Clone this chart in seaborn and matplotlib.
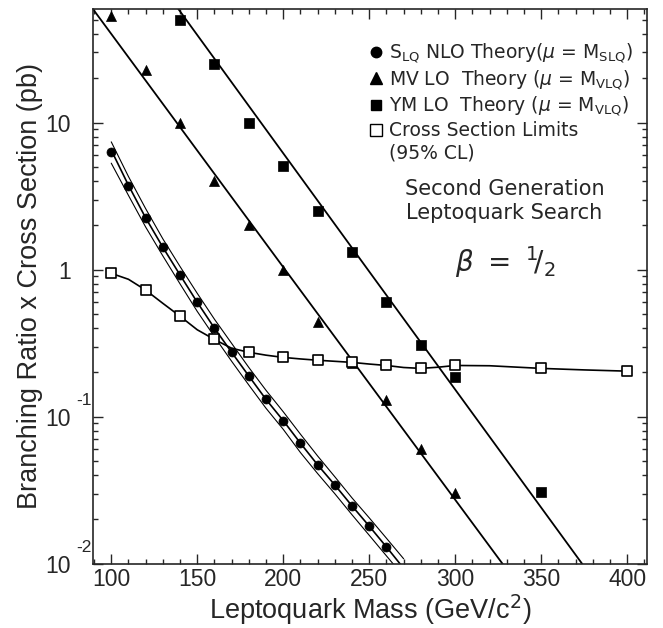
import seaborn as sns
import matplotlib.pyplot as plt
import matplotlib.transforms as mtransforms
from matplotlib.lines import Line2D
from matplotlib.ticker import FixedLocator, NullFormatter
import pandas as pd

# scalar LQ, NLO theory points (pb)
slq_mass = [100, 110, 120, 130, 140, 150, 160, 170, 180, 190, 200, 210, 220, 230, 240, 250, 260]
slq_xsec = [6.3, 3.72, 2.25, 1.42, 0.92, 0.60, 0.40, 0.274, 0.189, 0.131, 0.094, 0.066, 0.047,
            0.0343, 0.0247, 0.018, 0.0130]
# central curve and error band of the NLO calculation
slq_curve_mass = [100, 110, 120, 130, 140, 150, 160, 170, 180, 190, 200, 210, 220, 230, 240, 250, 260, 270]
slq_curve = [6.5, 3.75, 2.25, 1.42, 0.92, 0.60, 0.40, 0.274, 0.189, 0.131, 0.094, 0.066, 0.047,
             0.0343, 0.0247, 0.018, 0.0130, 0.0093]
slq_upper = [7.4, 4.3, 2.6, 1.62, 1.05, 0.69, 0.46, 0.315, 0.216, 0.151, 0.108, 0.076, 0.054,
             0.039, 0.028, 0.0205, 0.0149, 0.0108]
slq_lower = [5.3, 3.2, 1.95, 1.24, 0.80, 0.52, 0.35, 0.238, 0.164, 0.114, 0.082, 0.057, 0.041,
             0.0299, 0.0215, 0.0156, 0.0113, 0.0082]

# vector LQ, minimal vector couplings
mv_mass = [100, 120, 140, 160, 180, 200, 220, 240, 260, 280, 300]
mv_xsec = [53, 22.8, 9.9, 4.03, 2.01, 1.0, 0.44, 0.233, 0.13, 0.060, 0.0301]
mv_curve_mass = [89, 200, 328]
mv_curve = [60, 1.04, 0.0098]

# vector LQ, Yang-Mills couplings
ym_mass = [140, 160, 180, 200, 220, 240, 260, 280, 300, 350]
ym_xsec = [50, 25, 10, 5.07, 2.51, 1.32, 0.60, 0.307, 0.185, 0.0305]
ym_curve_mass = [139, 250, 374]
ym_curve = [59.3, 0.97, 0.0099]

# 95% CL limits
limit_mass = [100, 120, 140, 160, 180, 200, 220, 240, 260, 280, 300, 350, 400]
limit_xsec = [0.944, 0.726, 0.482, 0.335, 0.274, 0.253, 0.242, 0.234, 0.223, 0.213, 0.223, 0.213, 0.204]
limit_curve_mass = [100, 110, 120, 130, 140, 150, 160, 170, 180, 190, 200, 210, 220, 230, 240,
                    250, 260, 270, 280, 290, 300, 320, 350, 375, 400]
limit_curve = [0.944, 0.86, 0.726, 0.59, 0.482, 0.39, 0.335, 0.292, 0.274, 0.262, 0.253, 0.247,
               0.242, 0.238, 0.234, 0.228, 0.223, 0.216, 0.213, 0.217, 0.223, 0.222, 0.213, 0.208, 0.204]

sns.set_style("ticks")
plt.rcParams['font.family'] = ['Liberation Sans', 'DejaVu Sans']

fig = plt.figure(figsize=(6.63, 6.28), dpi=100)
ax = fig.add_axes([0.1403, 0.1024, 0.8351, 0.8833])

# theory curves
for m, v, lw in [(slq_curve_mass, slq_upper, 0.8), (slq_curve_mass, slq_lower, 0.8),
                 (slq_curve_mass, slq_curve, 1.2), (mv_curve_mass, mv_curve, 1.3),
                 (ym_curve_mass, ym_curve, 1.3), (limit_curve_mass, limit_curve, 1.2)]:
    sns.lineplot(x=m, y=v, color='black', lw=lw, sort=False, estimator=None, ax=ax)

pts = pd.DataFrame({'mass': slq_mass, 'xsec': slq_xsec})
sns.scatterplot(data=pts, x='mass', y='xsec', marker='o', s=42, color='black',
                edgecolor='black', linewidth=0.5, ax=ax, zorder=3)
pts = pd.DataFrame({'mass': mv_mass, 'xsec': mv_xsec})
sns.scatterplot(data=pts, x='mass', y='xsec', marker='^', s=52, color='black',
                edgecolor='black', linewidth=0.5, ax=ax, zorder=3)
pts = pd.DataFrame({'mass': ym_mass, 'xsec': ym_xsec})
sns.scatterplot(data=pts, x='mass', y='xsec', marker='s', s=45, color='black',
                edgecolor='black', linewidth=0.5, ax=ax, zorder=3)
pts = pd.DataFrame({'mass': limit_mass, 'xsec': limit_xsec})
sns.scatterplot(data=pts, x='mass', y='xsec', marker='s', s=45, color='white',
                edgecolor='black', linewidth=1.2, ax=ax, zorder=3)

ax.set_yscale('log')
ax.set_xlim(89.4, 411.3)
ax.set_ylim(0.01, 59.3)

ax.xaxis.set_major_locator(FixedLocator([100, 150, 200, 250, 300, 350, 400]))
ax.xaxis.set_minor_locator(FixedLocator(list(range(90, 411, 10))))
ax.yaxis.set_major_locator(FixedLocator([0.01, 0.1, 1, 10]))
ax.yaxis.set_minor_locator(FixedLocator([k * 10.0 ** e for e in (-2, -1, 0, 1) for k in range(2, 10)]))
ax.yaxis.set_minor_formatter(NullFormatter())
ax.set_yticklabels(['10', '10', '1', '10'])
ax.tick_params(which='both', direction='in', top=True, right=True, width=1, labelsize=16.5)
ax.tick_params(which='major', length=7)
ax.tick_params(which='minor', length=3.5)
ax.tick_params(axis='y', pad=16)
ax.tick_params(axis='x', pad=3)
for s in ax.spines.values():
    s.set_linewidth(1.2)

# exponents of the lower y labels, set apart like in the original
blend = mtransforms.blended_transform_factory(ax.transAxes, ax.transData)
for v, e in [(0.1, '-1'), (0.01, '-2')]:
    ax.annotate(e, xy=(0, v), xycoords=blend, xytext=(-1, 6), textcoords='offset points',
                ha='right', va='bottom', fontsize=12.5)

ax.set_xlabel('Leptoquark Mass (GeV/c$^2$)', fontsize=19.5, labelpad=1)
ax.set_ylabel('Branching Ratio x Cross Section (pb)', fontsize=19.5, labelpad=2)

handles = [Line2D([], [], ls='none', marker='o', ms=7.5, color='black'),
           Line2D([], [], ls='none', marker='^', ms=8.5, color='black'),
           Line2D([], [], ls='none', marker='s', ms=7.5, color='black'),
           Line2D([], [], ls='none', marker='s', ms=8.5, mfc='white', mec='black', mew=1),
           Line2D([], [], ls='none')]
labels = ['S$_{\\mathrm{LQ}}$ NLO Theory($\\mu$ = M$_{\\mathrm{SLQ}}$)',
          'MV LO  Theory ($\\mu$ = M$_{\\mathrm{VLQ}}$)',
          'YM LO  Theory ($\\mu$ = M$_{\\mathrm{VLQ}}$)',
          'Cross Section Limits',
          '(95% CL)']
ax.legend(handles, labels, loc='upper left', bbox_to_anchor=(0.48, 0.957), frameon=False,
          handlelength=0.8, handletextpad=0.3, labelspacing=0.17, borderpad=0,
          prop={'family': 'DejaVu Sans', 'size': 13.5})

ax.text(0.743, 0.654, 'Second Generation\nLeptoquark Search', transform=ax.transAxes,
        ha='center', va='center', fontsize=15, family='DejaVu Sans', linespacing=1.3)
ax.text(0.745, 0.544, r'$\beta\ =\ {}^{1}\!/_{2}$', transform=ax.transAxes,
        ha='center', va='center', fontsize=20)

fig.savefig('out.png', dpi=100)
